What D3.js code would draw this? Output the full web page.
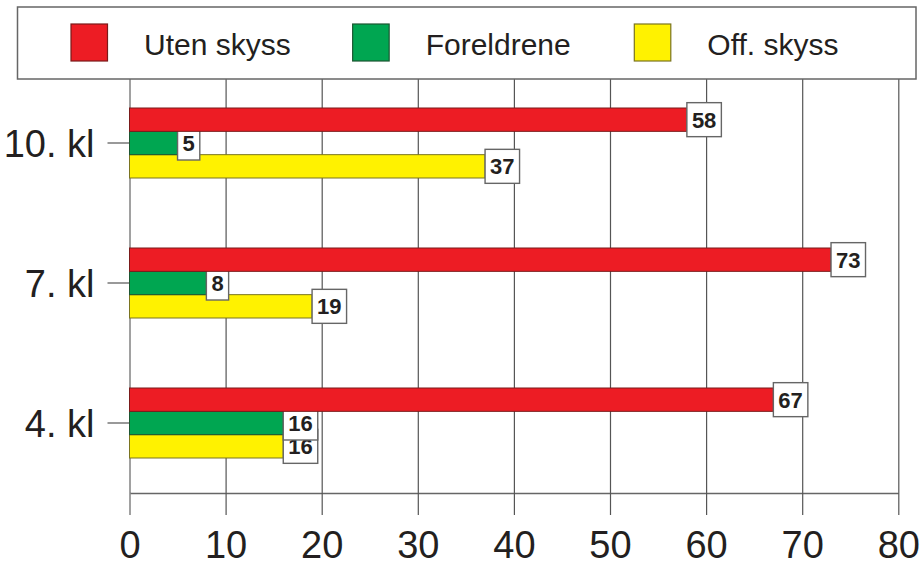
<!DOCTYPE html>
<html>
<head>
<meta charset="utf-8">
<script src="https://cdn.jsdelivr.net/npm/d3@7"></script>
<style>
    body { margin: 0; background: #fff; }
    svg { display: block; font-family: "Liberation Sans", Arial, sans-serif; }
</style>
</head>
<body>
<div id="chart"></div>
<script>
// chart data
const classes = ["10. kl", "7. kl", "4. kl"];
const seriesNames = ["Uten skyss", "Foreldrene", "Off. skyss"];
const utenSkyss = [58, 73, 67];
const foreldrene = [5, 8, 16];
const offSkyss = [37, 19, 16];
const xTicks = [0, 10, 20, 30, 40, 50, 60, 70, 80];

const seriesValues = [utenSkyss, foreldrene, offSkyss];
const fills = ["#ed1c24", "#00a651", "#fff200"];
const strokes = ["#7a1a1a", "#1c5631", "#7a7420"];
const textColor = "#231f20";

let width = 924, height = 566;
let plotLeft = 129.5, plotRight = 898.3, plotTop = 73, plotBottom = 493;

let svg = d3.select("#chart")
    .append("svg")
    .attr("width", width)
    .attr("height", height);

// scales
let x = d3.scaleLinear().domain([0, 80]).range([plotLeft, plotRight]);
let y = d3.scaleBand().domain(classes).range([plotTop, plotBottom]).paddingInner(0.5).paddingOuter(0.25);
let ySub = d3.scaleBand().domain(seriesNames).range([0, y.bandwidth()]);

// vertical grid lines
svg.append("g")
    .attr("transform", "translate(0," + plotBottom + ")")
    .call(d3.axisBottom(x).tickValues(xTicks).tickSizeInner(-(plotBottom - plotTop)).tickSizeOuter(0).tickFormat(""))
    .call(g => g.select(".domain").remove())
    .call(g => g.selectAll(".tick line")
        .attr("stroke", (d) => d === 0 ? "#8a8a8a" : "#555")
        .attr("stroke-width", (d) => d === 0 ? 1.6 : 1.2));

// bottom axis with ticks and labels
let xAxis = svg.append("g")
    .attr("transform", "translate(0," + plotBottom + ")")
    .call(d3.axisBottom(x).tickValues(xTicks).tickSizeInner(22).tickSizeOuter(0));
xAxis.select(".domain").attr("stroke", "#666").attr("stroke-width", 1.3);
xAxis.selectAll(".tick line")
    .attr("stroke", (d) => d === 0 ? "#8a8a8a" : "#555")
    .attr("stroke-width", (d) => d === 0 ? 1.6 : 1.2);
xAxis.selectAll(".tick text")
    .attr("y", 64.5)
    .attr("dy", null)
    .attr("fill", textColor)
    .style("font-size", "38px");

// left axis: category labels and short ticks
let yAxis = svg.append("g")
    .attr("transform", "translate(" + plotLeft + ",0)")
    .call(d3.axisLeft(y).tickSizeInner(22).tickSizeOuter(0).tickPadding(13));
yAxis.select(".domain").remove();
yAxis.selectAll(".tick line").attr("stroke", "#555").attr("stroke-width", 1.2);
yAxis.selectAll(".tick text")
    .attr("dy", "0.38em")
    .attr("fill", textColor)
    .style("font-size", "38px");

// bars and value labels, last series first so earlier ones sit on top
for (let s = seriesNames.length - 1; s >= 0; s--) {
    let rows = classes.map((c, i) => ({ cls: c, value: seriesValues[s][i] }));
    let g = svg.append("g");

    g.selectAll("rect.bar")
        .data(rows)
        .enter()
        .append("rect")
        .attr("class", "bar")
        .attr("x", x(0))
        .attr("y", d => y(d.cls) + ySub(seriesNames[s]))
        .attr("width", d => x(d.value) - x(0))
        .attr("height", ySub.bandwidth())
        .attr("fill", fills[s])
        .attr("stroke", strokes[s])
        .attr("stroke-width", 1);

    let labels = g.selectAll("g.label")
        .data(rows)
        .enter()
        .append("g")
        .attr("class", "label")
        .attr("transform", d => "translate(" + x(d.value) + "," + (y(d.cls) + ySub(seriesNames[s]) + ySub.bandwidth() / 2) + ")");

    labels.append("rect")
        .attr("y", -17)
        .attr("height", 34)
        .attr("fill", "#fff")
        .attr("stroke", "#666")
        .attr("stroke-width", 1.4);

    let texts = labels.append("text")
        .attr("y", 8)
        .attr("fill", textColor)
        .style("font-size", "22px")
        .style("font-weight", "bold")
        .text(d => d.value);

    texts.each(function () {
        let w = this.getComputedTextLength();
        d3.select(this).attr("x", 5);
        d3.select(this.parentNode).select("rect").attr("width", w + 10);
    });
}

// legend
let legend = svg.append("g");
legend.append("rect")
    .attr("x", 17.5)
    .attr("y", 7)
    .attr("width", 898.5)
    .attr("height", 72)
    .attr("fill", "#fff")
    .attr("stroke", "#666")
    .attr("stroke-width", 1.5);

let legendX = d3.scalePoint().domain(seriesNames).range([71, 634.3]);
let items = legend.selectAll("g.item")
    .data(seriesNames)
    .enter()
    .append("g")
    .attr("class", "item")
    .attr("transform", d => "translate(" + legendX(d) + ",24)");

items.append("rect")
    .attr("width", 36.5)
    .attr("height", 37)
    .attr("fill", (d, i) => fills[i])
    .attr("stroke", (d, i) => strokes[i])
    .attr("stroke-width", 1.2);

items.append("text")
    .attr("x", 73)
    .attr("y", 31)
    .attr("fill", textColor)
    .style("font-size", "30px")
    .text(d => d);
</script>
</body>
</html>
